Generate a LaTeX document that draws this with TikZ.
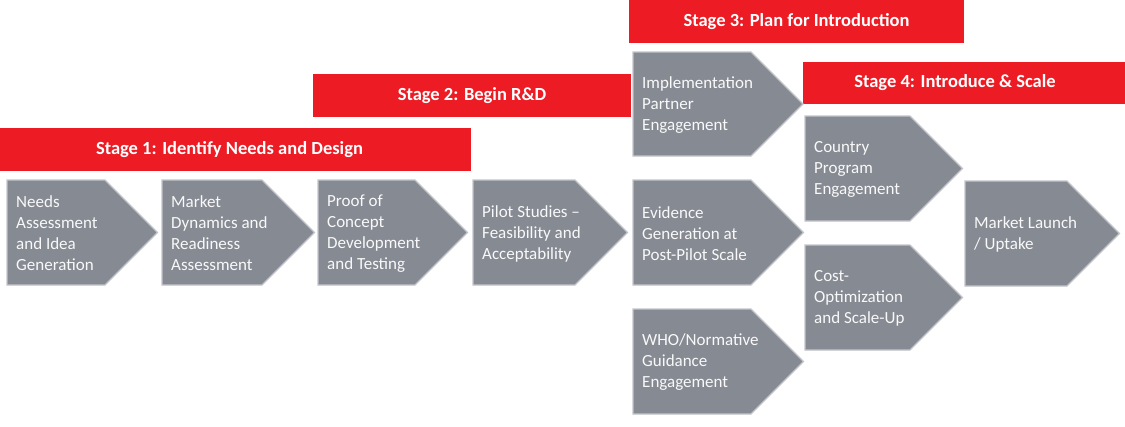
\documentclass[tikz,border=0pt]{standalone}
\usepackage{fontspec}
\setmainfont{Carlito}
\usepackage{xcolor}
\usepackage{tikz}
\definecolor{stageRed}{HTML}{ED1C24}
\definecolor{stepGray}{HTML}{868A93}
\definecolor{stepEdge}{HTML}{C3C5CA}

\begin{document}
\begin{tikzpicture}[x=1pt, y=-1pt,
    stagebar/.style={fill=stageRed, minimum height=42.5pt, inner sep=0pt,
        text=white, font=\fontsize{18.5}{22}\selectfont\bfseries},
    chevfill/.style={fill=stepGray, draw=stepEdge, line width=1.1pt, line join=miter},
    steptext/.style={anchor=west, align=left, inner xsep=9pt, yshift=-1pt,
        text=white!95!gray, font=\fontsize{17}{21}\selectfont}]
    \useasboundingbox (0,0) rectangle (1125,426);

    % stage headers
    \node[stagebar, minimum width=471pt] (stageone) at (235.5,149.3) {Stage 1: Identify Needs and Design\hspace*{12pt}};
    \node[stagebar, minimum width=318pt] (stagetwo) at (472,95.3) {Stage 2: Begin R\&D};
    \node[stagebar, minimum width=335pt] (stagethree) at (796.5,21.3) {Stage 3: Plan for Introduction};
    \node[stagebar, minimum width=322pt] (stagefour) at (964,83) {Stage 4: Introduce \& Scale\hspace*{18pt}};

    % stage 1 and 2 steps
    \draw[chevfill] (7,180) -- ++(98,0) -- ++(52.5,52.5) -- ++(-52.5,52.5) -- ++(-98,0) -- cycle;
    \node[steptext] (needs) at (7,232.5) {Needs\\Assessment\\and Idea\\Generation};

    \draw[chevfill] (162,180) -- ++(100,0) -- ++(52.5,52.5) -- ++(-52.5,52.5) -- ++(-100,0) -- cycle;
    \node[steptext] (market) at (162,232.5) {Market\\Dynamics and\\Readiness\\Assessment};

    \draw[chevfill] (318,180) -- ++(97,0) -- ++(52.5,52.5) -- ++(-52.5,52.5) -- ++(-97,0) -- cycle;
    \node[steptext] (proof) at (318,232.5) {Proof of\\Concept\\Development\\and Testing};

    \draw[chevfill] (473,180) -- ++(102,0) -- ++(52.5,52.5) -- ++(-52.5,52.5) -- ++(-102,0) -- cycle;
    \node[steptext] (pilot) at (473,232.5) {Pilot Studies --\\Feasibility and\\Acceptability};

    % stage 3 steps
    \draw[chevfill] (633,52) -- ++(118,0) -- ++(52,52) -- ++(-52,52) -- ++(-118,0) -- cycle;
    \node[steptext] (impl) at (633,104) {Implementation\\Partner\\Engagement};

    \draw[chevfill] (633,180) -- ++(118,0) -- ++(52.5,52.5) -- ++(-52.5,52.5) -- ++(-118,0) -- cycle;
    \node[steptext] (evidence) at (633,232.5) {Evidence\\Generation at\\Post-Pilot Scale};

    \draw[chevfill] (633,309) -- ++(118,0) -- ++(52.5,52.5) -- ++(-52.5,52.5) -- ++(-118,0) -- cycle;
    \node[steptext] (who) at (633,361.5) {WHO/Normative\\Guidance\\Engagement};

    % stage 4 steps
    \draw[chevfill] (805,116) -- ++(105,0) -- ++(52.5,52.5) -- ++(-52.5,52.5) -- ++(-105,0) -- cycle;
    \node[steptext] (country) at (805,168.5) {Country\\Program\\Engagement};

    \draw[chevfill] (805,245) -- ++(105,0) -- ++(52.5,52.5) -- ++(-52.5,52.5) -- ++(-105,0) -- cycle;
    \node[steptext] (cost) at (805,297.5) {Cost-\\Optimization\\and Scale-Up};

    \draw[chevfill] (965,181) -- ++(102,0) -- ++(52.5,52.5) -- ++(-52.5,52.5) -- ++(-102,0) -- cycle;
    \node[steptext] (launch) at (965,233.5) {Market Launch\\/ Uptake};
\end{tikzpicture}
\end{document}
